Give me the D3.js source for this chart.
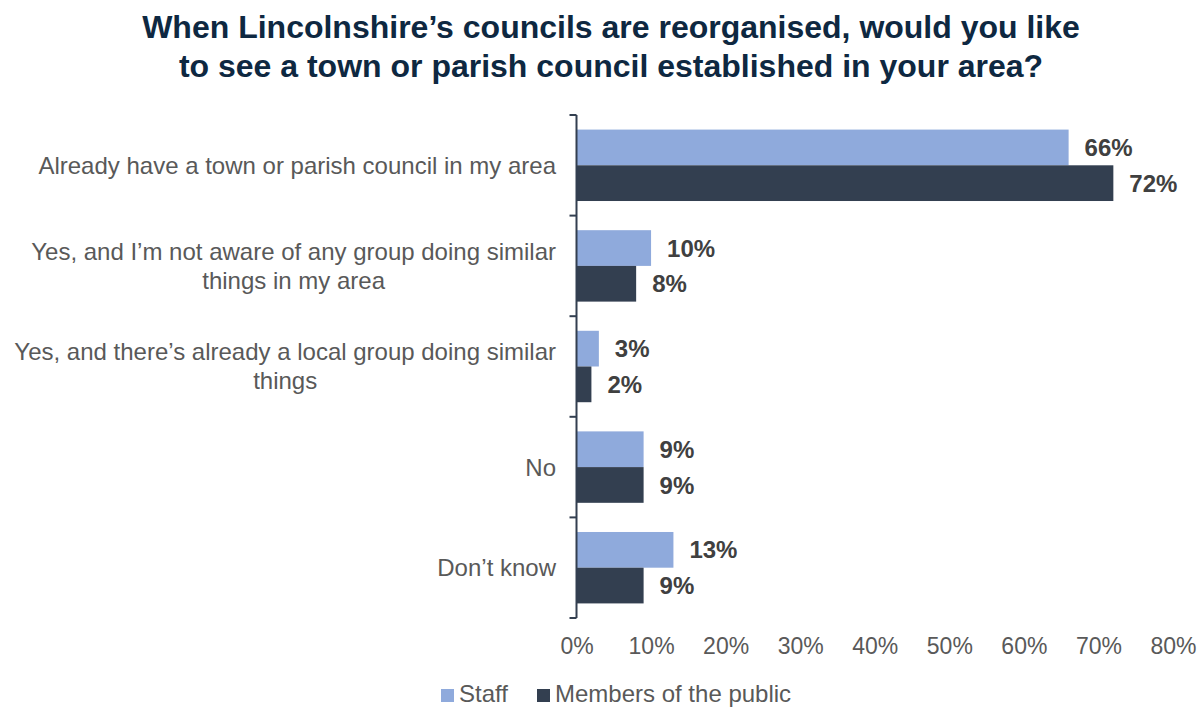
<!DOCTYPE html>
<html>
<head>
<meta charset="utf-8">
<script src="https://cdn.jsdelivr.net/npm/d3@7"></script>
<style>
  html, body { margin: 0; padding: 0; background: #ffffff; }
  svg { display: block; font-family: Arial, "Liberation Sans", sans-serif; }
</style>
</head>
<body>
<svg id="chart" width="1200" height="708"></svg>
<script>
// Survey responses, percent of each group
const categories = [
  ["Already have a town or parish council in my area"],
  ["Yes, and I\u2019m not aware of any group doing similar", "things in my area"],
  ["Yes, and there\u2019s already a local group doing similar", "things"],
  ["No"],
  ["Don\u2019t know"]
];
const seriesNames = ["Staff", "Members of the public"];
const staffValues = [66, 10, 3, 9, 13];
const publicValues = [72, 8, 2, 9, 9];
const xTicks = [0, 10, 20, 30, 40, 50, 60, 70, 80];
const titleLines = [
  "When Lincolnshire\u2019s councils are reorganised, would you like",
  "to see a town or parish council established in your area?"
];

const colors = ["#8FAADC", "#333F50"];
const svg = d3.select("#chart");

const margin = { left: 576.5, right: 1173, top: 115, bottom: 618 };
const x = d3.scaleLinear().domain([0, 80]).range([margin.left, margin.right]);
const y = d3.scaleBand().domain(d3.range(categories.length))
  .range([margin.top, margin.bottom]).paddingInner(0.29).paddingOuter(0.145);
const ySub = d3.scaleBand().domain([0, 1]).range([0, y.bandwidth()]);

// Title
svg.append("g").selectAll("text").data(titleLines).join("text")
  .attr("x", 611).attr("y", (d, i) => 38 + i * 39)
  .attr("text-anchor", "middle")
  .attr("font-size", 32).attr("font-weight", "bold").attr("fill", "#0E2841")
  .text(d => d);

// Bars
const rows = categories.map((c, i) => ({ i, vals: [staffValues[i], publicValues[i]] }));
const groups = svg.append("g").selectAll("g").data(rows).join("g")
  .attr("transform", d => `translate(0,${y(d.i)})`);

groups.selectAll("rect").data(d => d.vals.map((v, s) => ({ v, s }))).join("rect")
  .attr("x", x(0)).attr("y", d => ySub(d.s))
  .attr("width", d => x(d.v) - x(0)).attr("height", ySub.bandwidth())
  .attr("fill", d => colors[d.s]);

groups.selectAll("text.val").data(d => d.vals.map((v, s) => ({ v, s }))).join("text")
  .attr("class", "val")
  .attr("x", d => x(d.v) + 16).attr("y", d => ySub(d.s) + ySub.bandwidth() / 2)
  .attr("dy", "0.36em")
  .attr("font-size", 24).attr("font-weight", "bold").attr("fill", "#404040")
  .text(d => d.v + "%");

// Vertical category axis with ticks between categories
const step = y.step();
const axisG = svg.append("g");
axisG.append("line")
  .attr("x1", x(0)).attr("x2", x(0))
  .attr("y1", margin.top).attr("y2", margin.bottom)
  .attr("stroke", "#333F50").attr("stroke-width", 2);
axisG.selectAll("line.tick").data(d3.range(categories.length + 1)).join("line")
  .attr("class", "tick")
  .attr("x1", x(0) - 7).attr("x2", x(0))
  .attr("y1", d => margin.top + d * step).attr("y2", d => margin.top + d * step)
  .attr("stroke", "#333F50").attr("stroke-width", 2);

// Category labels: right-aligned block, lines centred within the block
const labelRight = 556;
const lineH = 29;
categories.forEach((lines, i) => {
  const g = svg.append("g");
  const texts = g.selectAll("text").data(lines).join("text")
    .attr("font-size", 24).attr("fill", "#595959")
    .attr("text-anchor", "middle")
    .text(d => d);
  const maxW = d3.max(texts.nodes(), n => n.getComputedTextLength());
  const cy = y(i) + y.bandwidth() / 2;
  const y0 = cy - (lines.length - 1) * lineH / 2;
  texts.attr("x", labelRight - maxW / 2)
    .attr("y", (d, k) => y0 + k * lineH)
    .attr("dy", "0.35em");
});

// Value axis labels
const xAxis = d3.axisBottom(x).tickValues(xTicks).tickFormat(d => d + "%").tickSize(0).tickPadding(0);
const xg = svg.append("g").attr("transform", "translate(0,638)").call(xAxis);
xg.select(".domain").remove();
xg.selectAll("text").attr("font-size", 23).attr("fill", "#595959")
  .attr("font-family", "Arial, 'Liberation Sans', sans-serif").attr("dy", "0.71em");

// Legend
const legendItems = [{ x: 441, s: 0 }, { x: 537, s: 1 }];
const lg = svg.append("g").selectAll("g").data(legendItems).join("g")
  .attr("transform", d => `translate(${d.x},689)`);
lg.append("rect").attr("width", 13).attr("height", 13).attr("fill", d => colors[d.s]);
lg.append("text").attr("x", 18).attr("y", 13)
  .attr("font-size", 24).attr("fill", "#595959")
  .text(d => seriesNames[d.s]);
</script>
</body>
</html>
